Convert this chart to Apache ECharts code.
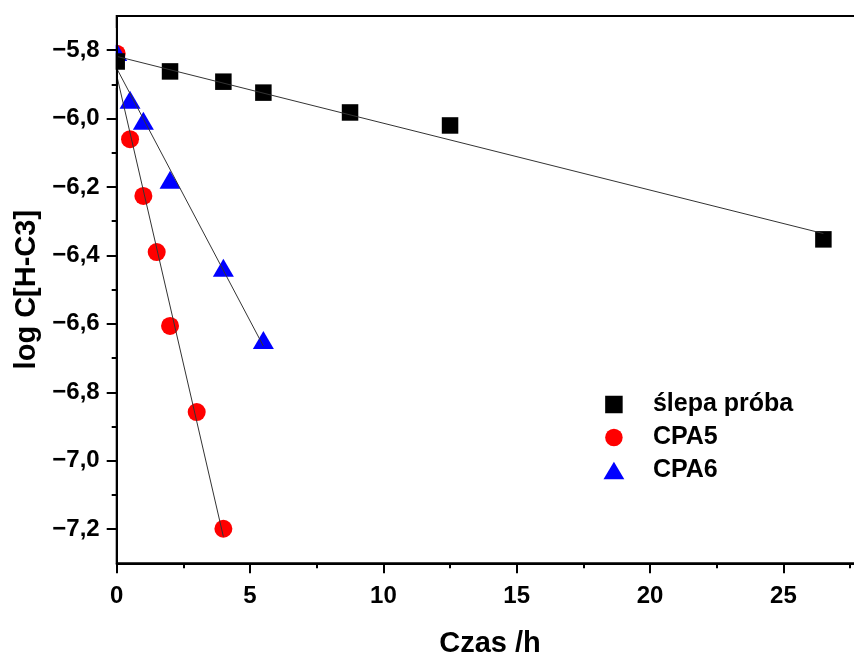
<!DOCTYPE html>
<html>
<head>
<meta charset="utf-8">
<script src="https://cdn.jsdelivr.net/npm/echarts@6/dist/echarts.min.js"></script>
<style>
html,body{margin:0;padding:0;background:#fff;}
#chart{width:854px;height:654px;}
</style>
</head>
<body>
<div id="chart"></div>
<script>
// ---- data ----
const xTicks = [0, 5, 10, 15, 20, 25];
const xMinorTicks = [2.5, 7.5, 12.5, 17.5, 22.5, 27.5];
const yTicks = [-7.2, -7.0, -6.8, -6.6, -6.4, -6.2, -6.0, -5.8];
const yMinorTicks = [-7.1, -6.9, -6.7, -6.5, -6.3, -6.1, -5.9];

const seriesNames = ['ślepa próba', 'CPA5', 'CPA6'];

const blankX = [0, 2, 4, 5.5, 8.75, 12.5, 26.5];
const blankY = [-5.833, -5.862, -5.892, -5.924, -5.982, -6.020, -6.353];
const cpa5X = [0, 0.5, 1, 1.5, 2, 3, 4];
const cpa5Y = [-5.81, -6.06, -6.226, -6.39, -6.606, -6.858, -7.199];
const cpa6X = [0, 0.5, 1, 2, 4, 5.5];
const cpa6Y = [-5.805, -5.945, -6.006, -6.179, -6.436, -6.647];

// fitted lines (end points)
const blankFitX = [0, 26.5];
const blankFitY = [-5.818, -6.336];
const cpa5FitX = [0, 4];
const cpa5FitY = [-5.873, -7.222];
const cpa6FitX = [0, 5.5];
const cpa6FitY = [-5.853, -6.665];

const zip = (xs, ys) => xs.map((x, i) => [x, ys[i]]);

const FONT = "'Liberation Sans', Arial, sans-serif";
const fmtY = v => Number(v).toFixed(1).replace('.', ',').replace('-', '\u2212');

const chart = echarts.init(document.getElementById('chart'));
const option = {
  animation: false,
  backgroundColor: '#fff',
  grid: {
    left: 116.7, top: 16, width: 746.7, height: 547.3,
    outerBoundsMode: 'none', containLabel: false,
    show: true, borderColor: '#000', borderWidth: 2, backgroundColor: 'transparent'
  },
  legend: {
    data: [
      { name: seriesNames[0], icon: 'path://M0,0L1,0L1,1L0,1Z' },
      { name: seriesNames[1], icon: 'circle' },
      { name: seriesNames[2], icon: 'path://M0.5,0L1,0.84L0,0.84Z' }
    ],
    orient: 'vertical',
    left: 603.5, top: 392,
    padding: 0,
    itemWidth: 68, itemHeight: 17.5, itemGap: 8,
    symbolKeepAspect: true,
    textStyle: { fontFamily: FONT, fontWeight: 'bold', fontSize: 25, color: '#000' }
  },
  xAxis: [{
    type: 'value', min: 0, max: 28, z: 11,
    name: 'Czas /h', nameLocation: 'middle', nameGap: 66,
    nameTextStyle: { fontFamily: FONT, fontWeight: 'bold', fontSize: 29, color: '#000' },
    axisLine: { show: true, onZero: false, lineStyle: { color: '#000', width: 2 } },
    axisTick: { show: true, customValues: xTicks, length: 10, lineStyle: { color: '#000', width: 2 } },
    axisLabel: { customValues: xTicks, margin: 21, fontFamily: FONT, fontWeight: 'bold', fontSize: 24, color: '#000' },
    splitLine: { show: false }
  }, {
    type: 'value', min: 0, max: 28, position: 'bottom', z: 11,
    axisLine: { show: false },
    axisTick: { show: true, customValues: xMinorTicks, length: 5, lineStyle: { color: '#000', width: 2 } },
    axisLabel: { show: false },
    splitLine: { show: false }
  }],
  yAxis: [{
    type: 'value', min: -7.3, max: -5.7, z: 11,
    name: 'log C[H-C3]', nameLocation: 'middle', nameGap: 75,
    nameTextStyle: { fontFamily: FONT, fontWeight: 'bold', fontSize: 29, color: '#000' },
    axisLine: { show: true, onZero: false, lineStyle: { color: '#000', width: 2 } },
    axisTick: { show: true, customValues: yTicks, length: 10, lineStyle: { color: '#000', width: 2 } },
    axisLabel: { customValues: yTicks, margin: 17, formatter: fmtY, fontFamily: FONT, fontWeight: 'bold', fontSize: 24, color: '#000' },
    splitLine: { show: false }
  }, {
    type: 'value', min: -7.3, max: -5.7, position: 'left', offset: 0, z: 11,
    axisLine: { show: false },
    axisTick: { show: true, customValues: yMinorTicks, length: 5, lineStyle: { color: '#000', width: 2 } },
    axisLabel: { show: false },
    splitLine: { show: false }
  }],
  graphic: [{
    type: 'rect', z: 10, silent: true,
    shape: { x: 100, y: 28, width: 15.6, height: 60 },
    style: { fill: '#fff' }
  }],
  series: [
    { name: 'CPA5', type: 'scatter', z: 2, data: zip(cpa5X, cpa5Y), symbol: 'circle', symbolSize: 18,
      itemStyle: { color: '#ff0000', opacity: 1 } },
    { name: 'CPA6', type: 'scatter', z: 2, data: zip(cpa6X, cpa6Y), symbol: 'triangle', symbolSize: [21, 18],
      itemStyle: { color: '#0000ff', opacity: 1 } },
    { name: 'ślepa próba', type: 'scatter', z: 3, data: zip(blankX, blankY), symbol: 'rect', symbolSize: 16.5,
      itemStyle: { color: '#000', opacity: 1 } },
    { name: 'fit0', type: 'line', z: 4, data: zip(blankFitX, blankFitY), symbol: 'none', silent: true,
      lineStyle: { color: '#333', width: 1 } },
    { name: 'fit1', type: 'line', z: 4, data: zip(cpa5FitX, cpa5FitY), symbol: 'none', silent: true,
      lineStyle: { color: '#333', width: 1 } },
    { name: 'fit2', type: 'line', z: 4, data: zip(cpa6FitX, cpa6FitY), symbol: 'none', silent: true,
      lineStyle: { color: '#333', width: 1 } }
  ]
};
chart.setOption(option);
</script>
</body>
</html>
